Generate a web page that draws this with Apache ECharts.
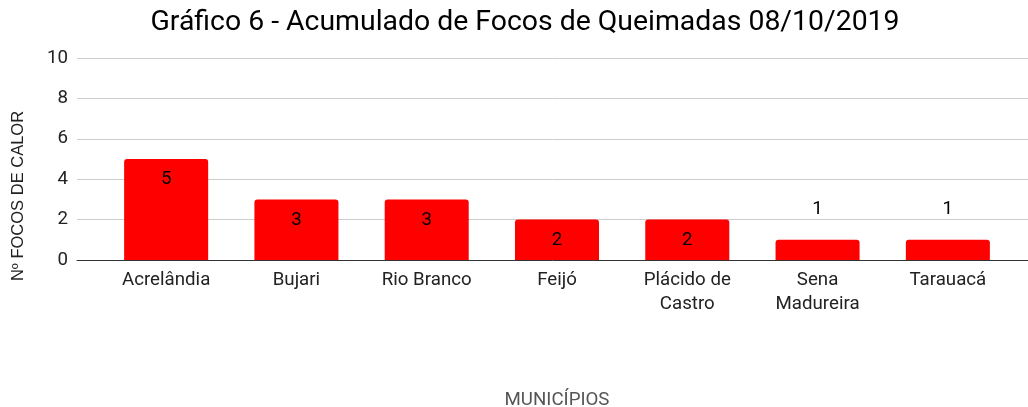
<!DOCTYPE html>
<html>
<head>
<meta charset="utf-8">
<script src="https://cdn.jsdelivr.net/npm/echarts@6/dist/echarts.min.js"></script>
<style>html,body{margin:0;padding:0;background:#fff}#c{width:1028px;height:407px}</style>
</head>
<body>
<div id="c"></div>
<script>
var titleText = 'Gráfico 6 - Acumulado de Focos de Queimadas 08/10/2019';
var categories = ['Acrelândia', 'Bujari', 'Rio Branco', 'Feijó', 'Plácido de\nCastro', 'Sena\nMadureira', 'Tarauacá'];
var values = [5, 3, 3, 2, 2, 1, 1];
var yTicks = [0, 2, 4, 6, 8, 10];
var yTitle = 'Nº FOCOS DE CALOR';
var xTitle = 'MUNICÍPIOS';

var chart = echarts.init(document.getElementById('c'), null, {renderer: 'canvas'});
var barData = values.map(function (v) {
  var inside = v >= 2;
  return {
    value: v,
    label: inside ? {position: 'insideTop', distance: 11} : {position: 'top', distance: 21}
  };
});
var option = {
  backgroundColor: '#fff',
  animation: false,
  title: {
    text: titleText, left: 520, top: 4, textAlign: 'center',
    textStyle: {fontFamily: 'Roboto', fontSize: 28.4, fontWeight: 'normal', color: '#000'}
  },
  graphic: [{
    type: 'text', x: 18, y: 196, rotation: Math.PI / 2,
    style: {text: yTitle, fontFamily: 'Liberation Sans, Arial', fontSize: 16.5, fill: '#222', textAlign: 'center', textVerticalAlign: 'middle'}
  }],
  grid: [
    {left: 77, right: 0, top: 58, height: 202, outerBoundsMode: 'none', containLabel: false},
    {left: 101, width: 912, top: 58, height: 202, outerBoundsMode: 'none', containLabel: false}
  ],
  xAxis: [
    {gridIndex: 0, type: 'value', min: 0, max: 1, show: true, axisLabel: {show: false}, axisTick: {show: false}, splitLine: {show: false}, axisLine: {show: true, lineStyle: {color: '#333', width: 1}}},
    {gridIndex: 1, type: 'category', data: categories, axisLine: {show: false}, axisTick: {show: false},
     axisLabel: {margin: 8, fontFamily: 'Roboto', fontSize: 18.7, color: '#222', lineHeight: 24},
     name: xTitle, nameLocation: 'middle', nameGap: 131,
     nameTextStyle: {fontFamily: 'Roboto', fontSize: 18.7, color: '#555'}}
  ],
  yAxis: [
    {gridIndex: 0, type: 'value', min: yTicks[0], max: yTicks[yTicks.length - 1], interval: 2,
     axisLine: {show: false}, axisTick: {show: false},
     axisLabel: {margin: 9, fontFamily: 'Roboto', fontSize: 18.7, color: '#222'},
     splitLine: {lineStyle: {color: '#cccccc', width: 1}}},
    {gridIndex: 1, type: 'value', min: 0, max: 10, show: false, splitLine: {show: false}}
  ],
  series: [{
    type: 'bar', xAxisIndex: 1, yAxisIndex: 1, data: barData,
    barCategoryGap: '35.5%',
    itemStyle: {color: '#ff0000', borderRadius: [3, 3, 0, 0]},
    label: {show: true, fontFamily: 'Roboto', fontSize: 18.7, color: '#000'}
  }]
};
chart.setOption(option);
</script>
</body>
</html>
